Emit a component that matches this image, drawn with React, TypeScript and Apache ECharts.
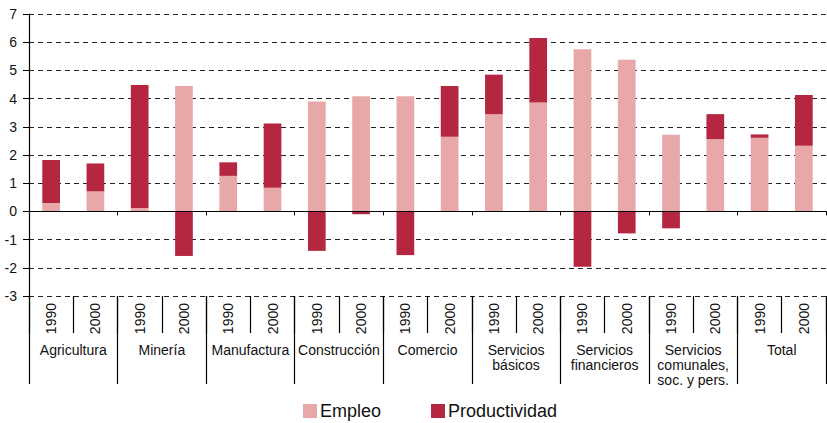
import React, { useEffect, useRef } from "react";
import * as echarts from "echarts";

const groups = [
  "Agricultura",
  "Minería",
  "Manufactura",
  "Construcción",
  "Comercio",
  "Servicios\nbásicos",
  "Servicios\nfinancieros",
  "Servicios\ncomunales,\nsoc. y pers.",
  "Total",
];
const years = ["1990", "2000"];
const categories = groups.flatMap((g, gi) => years.map((y) => `${gi}|${y}`));

const empleo = [
  0.3, 0.71, 0.12, 4.45, 1.26, 0.84, 3.9, 4.08, 4.08, 2.65, 3.45, 3.86, 5.75, 5.38, 2.72, 2.56, 2.61, 2.33,
];
const productividad = [
  1.52, 0.99, 4.36, -1.58, 0.48, 2.28, -1.4, -0.1, -1.55, 1.8, 1.4, 2.29, -1.96, -0.78, -0.6, 0.89, 0.12, 1.8,
];

const yTicks = { min: -3, max: 7, interval: 1 };

const FONT = "'Liberation Sans', Arial, sans-serif";
const C_EMP = "#E8A8A9";
const C_PROD = "#B52640";

export default function App() {
  const ref = useRef<HTMLDivElement>(null);
  useEffect(() => {
    if (!ref.current) return;
    const chart = echarts.init(ref.current, null, { renderer: "svg" });
    chart.setOption({
      animation: false,
      textStyle: { fontFamily: FONT },
      grid: { left: 29, right: 1, top: 14, bottom: 127, containLabel: false },
      legend: {
        left: 303,
        top: 402,
        padding: 0,
        itemWidth: 14,
        itemHeight: 14,
        itemGap: 50,
        icon: "rect",
        textStyle: { fontSize: 18, color: "#111", fontFamily: FONT, padding: [0, 0, 0, -2] },
        data: ["Empleo", "Productividad"],
      },
      xAxis: [
        {
          type: "category",
          data: categories,
          position: "bottom",
          axisLine: { show: true, onZero: true, lineStyle: { color: "#000", width: 1.2 } },
          axisTick: { show: true, length: 4, lineStyle: { color: "#000" } },
          axisLabel: { show: false },
          splitLine: { show: false },
          z: 5,
        },
        {
          type: "category",
          data: categories,
          position: "bottom",
          axisLine: { show: false, onZero: false },
          axisTick: { show: true, length: 37, lineStyle: { color: "#000", width: 1.2 } },
          axisLabel: {
            show: true,
            interval: 0,
            rotate: 90,
            margin: 7,
            fontSize: 14,
            color: "#111",
            fontFamily: FONT,
            formatter: (v: string) => v.split("|")[1],
          },
          splitLine: { show: false },
        },
        {
          type: "category",
          data: groups,
          position: "bottom",
          axisLine: { show: false, onZero: false },
          axisTick: { show: true, length: 88, lineStyle: { color: "#000", width: 1.2 } },
          axisLabel: {
            show: true,
            interval: 0,
            margin: 46,
            fontSize: 14,
            lineHeight: 15,
            color: "#111",
            fontFamily: FONT,
          },
          splitLine: { show: false },
        },
      ],
      yAxis: {
        type: "value",
        min: yTicks.min,
        max: yTicks.max,
        interval: yTicks.interval,
        axisLine: { show: true, lineStyle: { color: "#000", width: 1.2 } },
        axisTick: { show: true, length: 6, lineStyle: { color: "#000" } },
        axisLabel: { fontSize: 14, color: "#111", margin: 12, fontFamily: FONT },
        splitLine: { show: true, lineStyle: { color: "#222", type: [5, 4], width: 1 } },
      },
      series: [
        {
          name: "Empleo",
          type: "bar",
          stack: "s",
          xAxisIndex: 0,
          barWidth: "40%",
          data: empleo,
          itemStyle: { color: C_EMP },
        },
        {
          name: "Productividad",
          type: "bar",
          stack: "s",
          xAxisIndex: 0,
          barWidth: "40%",
          data: productividad,
          itemStyle: { color: C_PROD },
        },
      ],
    });
    return () => chart.dispose();
  }, []);
  return (
    <div
      ref={ref}
      style={{ position: "absolute", left: 0, top: 0, width: 827, height: 423 }}
    />
  );
}
